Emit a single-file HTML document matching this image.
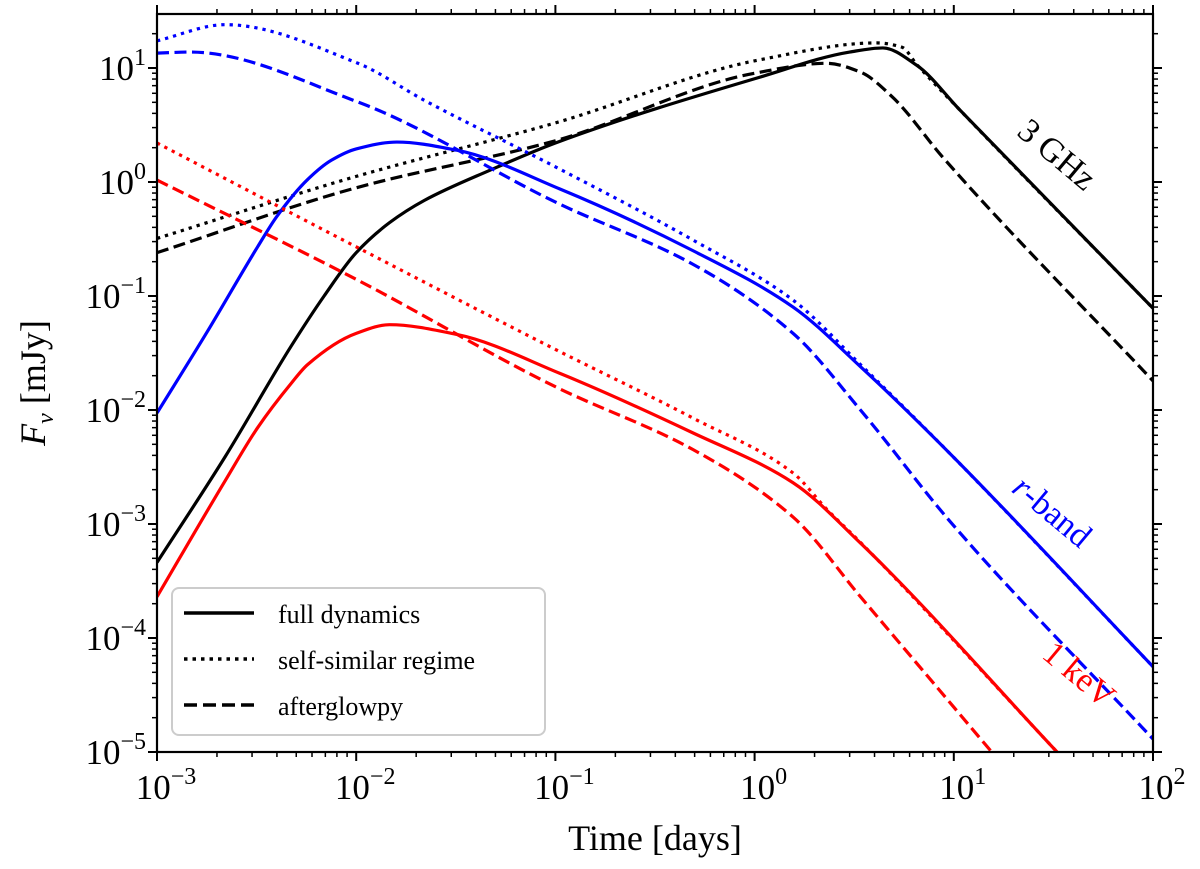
<!DOCTYPE html>
<html><head><meta charset="utf-8"><style>
body{margin:0;background:#fff;}
svg{display:block;font-family:"Liberation Serif",serif;}
</style></head><body>
<svg id="chart" width="1200" height="869" viewBox="0 0 1200 869" xmlns="http://www.w3.org/2000/svg">
<defs><clipPath id="clip"><rect x="157" y="14" width="996" height="738"/></clipPath></defs>
<g id="curves" clip-path="url(#clip)"></g>
<g id="axes"></g>
<g id="legend">
  <rect x="172" y="588" width="373" height="147" rx="7" fill="#fff" fill-opacity="0.8" stroke="#ccc" stroke-width="2"/>
  <line x1="184" y1="613" x2="254" y2="613" stroke="#000" stroke-width="3.5"/>
  <text x="278" y="623" font-size="26">full dynamics</text>
  <line x1="184" y1="659" x2="254" y2="659" stroke="#000" stroke-width="3.5" stroke-dasharray="3.5,5"/>
  <text x="278" y="669" font-size="26">self-similar regime</text>
  <line x1="184" y1="705" x2="254" y2="705" stroke="#000" stroke-width="3.5" stroke-dasharray="13,6"/>
  <text x="278" y="715" font-size="26">afterglowpy</text>
</g>
<text x="1050" y="163" font-size="34" fill="#000" text-anchor="middle" transform="rotate(40 1050 163)">3 GHz</text>
<text x="1045" y="520" font-size="34" fill="#0000ff" text-anchor="middle" transform="rotate(40 1045 520)"><tspan font-style="italic">r</tspan>-band</text>
<text x="1072" y="683" font-size="34" fill="#ff0000" text-anchor="middle" transform="rotate(40 1072 683)">1 keV</text>
<text x="655" y="850" font-size="36" text-anchor="middle">Time [days]</text>
<text x="45" y="383" font-size="36" text-anchor="middle" transform="rotate(-90 45 383)"><tspan font-style="italic">F</tspan><tspan font-style="italic" font-size="24" dy="8">ν</tspan><tspan dy="-8"> [mJy]</tspan></text>
</svg>
<script>
const xTicksExp = [-3,-2,-1,0,1,2];
const yTicksExp = [-5,-4,-3,-2,-1,0,1];
const tBlackSolid = [1e-3,2.2e-3,4.7e-3,6.9e-3,0.01,0.0147,0.022,0.047,0.1,1.06,3.0,4.4,6.5,10.7,100];
const fBlackSolid = [4.6e-4,3.9e-3,0.036,0.1,0.24,0.44,0.69,1.27,2.2,8.3,13.8,15.0,10.6,4.3,0.078];
const tBlackDotted = [1e-3,0.01,0.1,1.06,4.1,5.5,6.5,10.7,100];
const fBlackDotted = [0.32,1.12,3.3,11.8,16.6,15.2,10.8,4.3,0.078];
const tBlackDashed = [1e-3,0.01,0.1,1,2.3,3.4,4.9,8.8,100];
const fBlackDashed = [0.24,0.89,2.3,9.0,11,9.2,5.6,1.65,0.018];
const tBlueSolid = [1e-3,1.78e-3,3.2e-3,4e-3,5.7e-3,7.5e-3,0.01,0.016,0.032,0.105,0.49,1.56,3.4,9.5,100];
const fBlueSolid = [9.4e-3,0.048,0.27,0.5,1.05,1.55,1.95,2.24,1.9,0.87,0.25,0.08,0.024,4.2e-3,5.6e-5];
const tBlueDotted = [1e-3,2.2e-3,0.0102,0.022,0.105,0.49,1.56,3.4,9.5,100];
const fBlueDotted = [17.3,24,11,5.2,1.3,0.31,0.092,0.025,4.2e-3,5.6e-5];
const tBlueDashed = [1e-3,1.46e-3,0.01,0.105,0.49,1.56,3.4,9.5,100];
const fBlueDashed = [13.5,13.8,5.1,0.64,0.19,0.047,0.01,1.07e-3,1.3e-5];
const tRedSolid = [1e-3,2.2e-3,3.2e-3,4.7e-3,5.7e-3,0.01,0.0147,0.032,0.105,0.49,1.56,3.4,33];
const fRedSolid = [2.3e-4,2.4e-3,7e-3,0.017,0.025,0.047,0.056,0.046,0.021,6.3e-3,2.3e-3,6.8e-4,1e-5];
const tRedDotted = [1e-3,0.01,0.1,0.49,1.56,2.3,3.4,33];
const fRedDotted = [2.2,0.27,0.034,8.5e-3,2.8e-3,1.35e-3,6.9e-4,1e-5];
const tRedDashed = [1e-3,0.01,0.1,0.49,1.56,3.4,15.5];
const fRedDashed = [1.04,0.14,0.016,4.5e-3,1.15e-3,2.3e-4,1e-5];

const NS="http://www.w3.org/2000/svg";
const X0=157,X1=1153,Y0=752,Y1=14;
const xMin=-3,xMax=2;
function xs(t){return X0+(Math.log10(t)-xMin)/(xMax-xMin)*(X1-X0);}
function ys(f){return 182-Math.log10(f)*114;}

function pathFor(ts,fs){
  const p=ts.map((t,i)=>[xs(t),ys(fs[i])]);
  const n=p.length, h=[], s=[];
  for(let i=0;i<n-1;i++){h.push(p[i+1][0]-p[i][0]);s.push((p[i+1][1]-p[i][1])/h[i]);}
  const m=new Array(n);
  m[0]=s[0];m[n-1]=s[n-2];
  for(let i=1;i<n-1;i++){
    if(s[i-1]*s[i]<=0){m[i]=0;}
    else{const w1=2*h[i]+h[i-1],w2=h[i]+2*h[i-1];m[i]=(w1+w2)/(w1/s[i-1]+w2/s[i]);}
  }
  let d="M"+p[0][0].toFixed(2)+","+p[0][1].toFixed(2);
  for(let i=0;i<n-1;i++){
    const dx=h[i]/3;
    d+="C"+(p[i][0]+dx).toFixed(2)+","+(p[i][1]+m[i]*dx).toFixed(2)+" "+(p[i+1][0]-dx).toFixed(2)+","+(p[i+1][1]-m[i+1]*dx).toFixed(2)+" "+p[i+1][0].toFixed(2)+","+p[i+1][1].toFixed(2);
  }
  return d;
}
const curves=document.getElementById('curves');
function addCurve(name,ts,fs,color,dash){
  const el=document.createElementNS(NS,'path');
  el.setAttribute('d',pathFor(ts,fs));
  el.setAttribute('fill','none');
  el.setAttribute('stroke',color);
  el.setAttribute('stroke-width','3.2');
  if(dash) el.setAttribute('stroke-dasharray',dash);
  
  
  curves.appendChild(el);
}
const DOT="3.3,5", DASH="12,5.5";
addCurve('black-dashed-afterglowpy',tBlackDashed,fBlackDashed,'#000',DASH);
addCurve('black-dotted-self-similar',tBlackDotted,fBlackDotted,'#000',DOT);
addCurve('black-solid-full',tBlackSolid,fBlackSolid,'#000',null);
addCurve('blue-dashed-afterglowpy',tBlueDashed,fBlueDashed,'#0000ff',DASH);
addCurve('blue-dotted-self-similar',tBlueDotted,fBlueDotted,'#0000ff',DOT);
addCurve('blue-solid-full',tBlueSolid,fBlueSolid,'#0000ff',null);
addCurve('red-dashed-afterglowpy',tRedDashed,fRedDashed,'#ff0000',DASH);
addCurve('red-dotted-self-similar',tRedDotted,fRedDotted,'#ff0000',DOT);
addCurve('red-solid-full',tRedSolid,fRedSolid,'#ff0000',null);

const axes=document.getElementById('axes');
function line(x1,y1,x2,y2,w){
  const l=document.createElementNS(NS,'line');
  l.setAttribute('x1',x1);l.setAttribute('y1',y1);l.setAttribute('x2',x2);l.setAttribute('y2',y2);
  l.setAttribute('stroke','#000');l.setAttribute('stroke-width',w);
  
  
  axes.appendChild(l);
}
const frame=document.createElementNS(NS,'rect');
frame.setAttribute('x',X0);frame.setAttribute('y',Y1);frame.setAttribute('width',X1-X0);frame.setAttribute('height',Y0-Y1);
frame.setAttribute('fill','none');frame.setAttribute('stroke','#000');frame.setAttribute('stroke-width','2.2');


axes.appendChild(frame);
for(let e=xMin;e<=xMax;e++){
  const x=xs(Math.pow(10,e));
  line(x,Y0,x,Y0+9,2);line(x,Y1,x,Y1-9,2);
  if(e<xMax){for(let m=2;m<=9;m++){const xm=xs(m*Math.pow(10,e));line(xm,Y0,xm,Y0+5,1.5);line(xm,Y1,xm,Y1-5,1.5);}}
}
for(let e=-5;e<=2;e++){
  const y=ys(Math.pow(10,e));
  if(y>=Y1-0.5){line(X0,y,X0-9,y,2);line(X1,y,X1+9,y,2);}
  for(let m=2;m<=9;m++){const ym=ys(m*Math.pow(10,e));if(ym>=Y1&&ym<=Y0){line(X0,ym,X0-5,ym,1.5);line(X1,ym,X1+5,ym,1.5);}}
}
function expLabel(x,y,e,anchor,name){
  const t=document.createElementNS(NS,'text');
  t.setAttribute('x',x);t.setAttribute('y',y);t.setAttribute('font-size','35');t.setAttribute('text-anchor',anchor);
  const s=(e<0?'\u2212':'')+Math.abs(e);
  t.innerHTML='10<tspan font-size="24" dy="-15">'+s+'</tspan>';
  
  
  axes.appendChild(t);
}
xTicksExp.forEach(e=>expLabel(xs(Math.pow(10,e))+9,799,e,'middle','x-tick-label'));
yTicksExp.forEach(e=>expLabel(146,ys(Math.pow(10,e))+12,e,'end','y-tick-label'));
</script>
</body></html>
